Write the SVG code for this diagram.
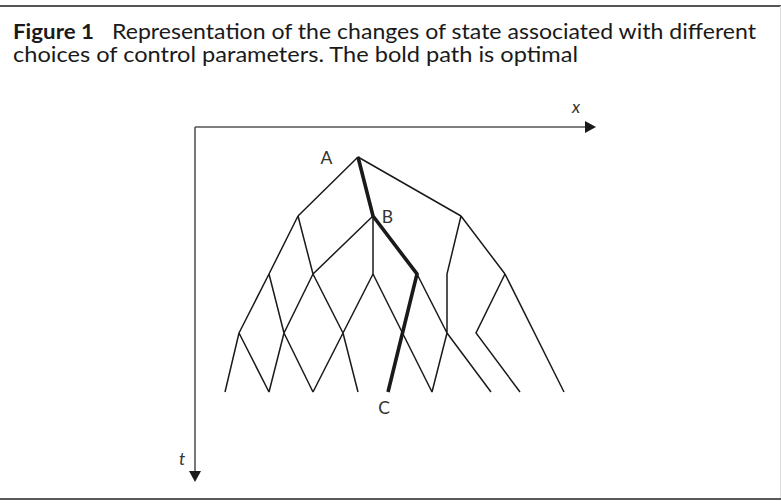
<svg xmlns="http://www.w3.org/2000/svg" width="781" height="504" viewBox="0 0 781 504">
<style>
.cap{font-family:Lato,"Open Sans","Liberation Sans",sans-serif;font-size:20.5px;fill:#1a1a1a}
.lbl{font-family:Lato,"Open Sans","Liberation Sans",sans-serif;font-size:17.5px;fill:#333}
.ax{stroke:#555;stroke-width:1.6;fill:none}
.e{stroke:#1a1a1a;stroke-width:1.5;fill:none;stroke-linejoin:miter}
.b{stroke:#1a1a1a;stroke-width:3.6;fill:none;stroke-linejoin:miter}
</style>
<rect width="781" height="504" fill="#fff"/>
<line x1="0" y1="6" x2="781" y2="6" stroke="#555" stroke-width="2.2"/>
<line x1="780.5" y1="6" x2="780.5" y2="499" stroke="#ddd" stroke-width="1"/>
<line x1="0" y1="499" x2="781" y2="499" stroke="#222" stroke-width="1.6"/>
<g id="caption">
<text class="cap" x="13" y="38.5" font-weight="bold" textLength="81" lengthAdjust="spacingAndGlyphs">Figure 1</text>
<text class="cap" x="112" y="38.5" textLength="644" lengthAdjust="spacingAndGlyphs">Representation of the changes of state associated with different</text>
<text class="cap" x="13" y="62" textLength="565" lengthAdjust="spacingAndGlyphs">choices of control parameters. The bold path is optimal</text>
</g>
<g id="axes">
<line class="ax" x1="195" y1="127" x2="586" y2="127"/>
<polygon points="585,121 596,127 585,133" fill="#1a1a1a"/>
<line class="ax" x1="195" y1="127" x2="195" y2="472"/>
<polygon points="189,471 201,471 195,482" fill="#1a1a1a"/>
<text class="lbl" x="576" y="113" text-anchor="middle" font-style="italic">x</text>
<text class="lbl" x="182" y="465" text-anchor="middle" font-style="italic">t</text>
</g>
<g id="connectors">
<path class="e" d="M358,157 L298,216 M358,157 L461,216
M298,216 L269,274 M298,216 L313,274
M373,216 L313,274 M373,216 L373,274
M461,216 L447,274 L447,333 M461,216 L505,274
M269,274 L239,333 M269,274 L284,333
M313,274 L284,333 M313,274 L343,333
M373,274 L343,333 M373,274 L432,392
M417,274 L447,333
M505,274 L476,333 L520,392 M505,274 L564,392
M239,333 L225,392 M239,333 L269,392
M284,333 L269,392 M284,333 L313,392
M343,333 L313,392 M343,333 L358,392
M447,333 L432,392 M447,333 L491,392"/>
<path class="b" d="M358,157 L373,216 L417,274 L388,392"/>
</g>
<g id="node-A"><text class="lbl" x="326.5" y="164" text-anchor="middle">A</text></g>
<g id="node-B"><text class="lbl" x="387.5" y="222.5" text-anchor="middle">B</text></g>
<g id="node-C"><text class="lbl" x="384" y="414" text-anchor="middle">C</text></g>
</svg>
